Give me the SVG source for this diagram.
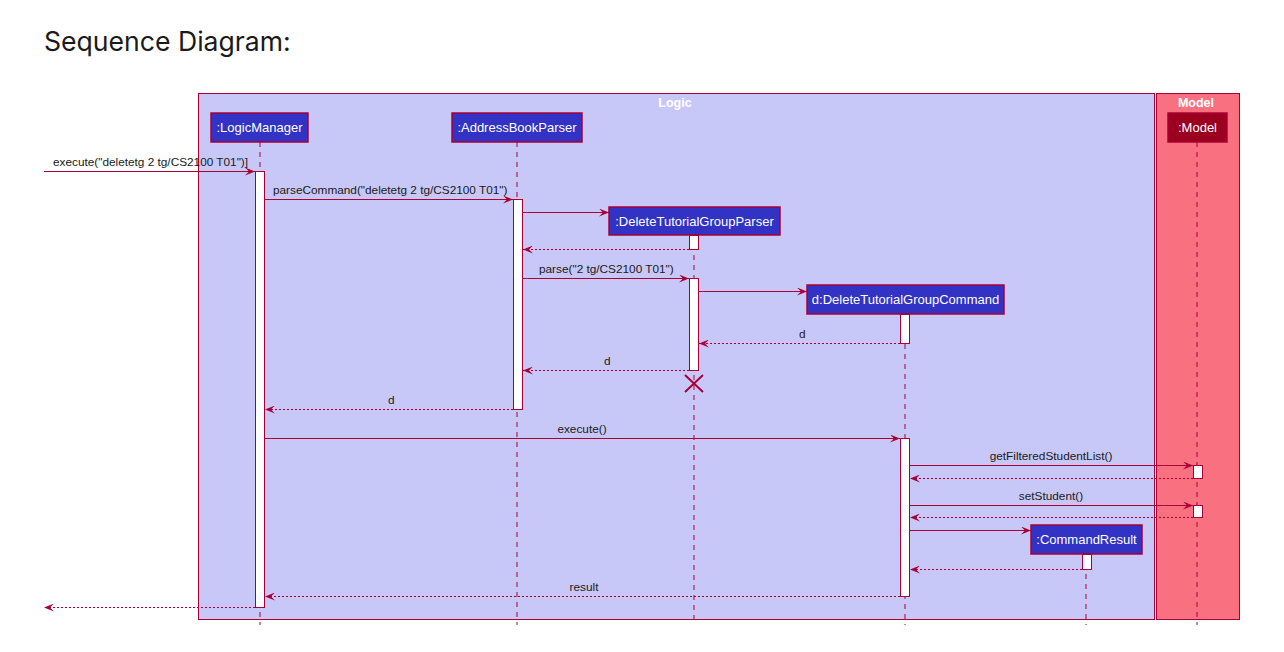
<svg xmlns="http://www.w3.org/2000/svg" width="1284" height="652" viewBox="0 0 1284 652">
<defs>
<marker id="arr" viewBox="0 0 10 8" markerWidth="10" markerHeight="8" refX="10" refY="4" orient="auto" markerUnits="userSpaceOnUse">
<path d="M0,0 L10,4 L0,8 L4,4 Z" fill="#A80036"/>
</marker>
<style>
.title{font-family:Inter,"Liberation Sans",sans-serif;font-size:26.6px;fill:#1a1a1a}
.box{fill:#3232C4;stroke:#A80036;stroke-width:1.5}
.mbox{fill:#9C001F;stroke:#A80036;stroke-width:1.5}
.pt{font-family:"Liberation Sans",Arial,sans-serif;font-size:13px;fill:#ffffff;text-anchor:middle}
.life{stroke:#A80036;stroke-width:1;stroke-dasharray:5,5;fill:none}
.act{fill:#ffffff;stroke:#A80036;stroke-width:1}
.msg{stroke:#A80036;stroke-width:1;fill:none;marker-end:url(#arr)}
.ret{stroke:#A80036;stroke-width:1;stroke-dasharray:2,2;fill:none;marker-end:url(#arr)}
.ml{font-family:"Liberation Sans",Arial,sans-serif;font-size:11.8px;fill:#1a1a1a}
.gt{font-family:"Liberation Sans",Arial,sans-serif;font-size:12.5px;font-weight:bold;fill:#ffffff;text-anchor:middle}
</style>
</defs>
<rect width="1284" height="652" fill="#ffffff"/>
<text class="title" x="44" y="51">Sequence Diagram:</text>

<g id="group-logic">
<rect x="198.5" y="93.5" width="956" height="526" fill="#C8C8F8" stroke="#A80036" stroke-width="1"/>
<text class="gt" x="675" y="107">Logic</text>
</g>
<g id="group-model">
<rect x="1156.5" y="93.5" width="83" height="526" fill="#F97181" stroke="#A80036" stroke-width="1"/>
<text class="gt" x="1196" y="107">Model</text>
</g>

<g id="lifelines">
<line class="life" x1="260" y1="142" x2="260" y2="625"/>
<line class="life" x1="517" y1="142" x2="517" y2="625"/>
<line class="life" x1="694" y1="235" x2="694" y2="625"/>
<line class="life" x1="905" y1="314" x2="905" y2="625"/>
<line class="life" x1="1086" y1="554" x2="1086" y2="625"/>
<line class="life" x1="1197" y1="142" x2="1197" y2="625"/>
</g>

<g id="logicmanager">
<rect class="box" x="211" y="113" width="97" height="29"/>
<text class="pt" x="259.5" y="132">:LogicManager</text>
<rect class="act" x="255.5" y="171.5" width="9" height="436"/>
</g>
<g id="addressbookparser">
<rect class="box" x="452" y="113" width="130" height="29"/>
<text class="pt" x="517" y="132">:AddressBookParser</text>
<rect class="act" x="513.5" y="199.5" width="9" height="210"/>
</g>
<g id="deletetutorialgroupparser">
<rect class="box" x="609" y="207" width="171" height="28"/>
<text class="pt" x="694.5" y="226">:DeleteTutorialGroupParser</text>
<rect class="act" x="689.5" y="235.5" width="9" height="14"/>
<rect class="act" x="689.5" y="278.5" width="9" height="92"/>
<path d="M685,375 L703,392 M703,375 L685,392" stroke="#A80036" stroke-width="2"/>
</g>
<g id="deletetutorialgroupcommand">
<rect class="box" x="807" y="285" width="197" height="29"/>
<text class="pt" x="905.5" y="304">d:DeleteTutorialGroupCommand</text>
<rect class="act" x="900.5" y="314.5" width="9" height="29"/>
<rect class="act" x="900.5" y="438.5" width="9" height="158"/>
</g>
<g id="commandresult">
<rect class="box" x="1031" y="525" width="111" height="29"/>
<text class="pt" x="1086.5" y="544">:CommandResult</text>
<rect class="act" x="1082.5" y="554.5" width="9" height="15"/>
</g>
<g id="model">
<rect class="mbox" x="1168" y="113" width="59" height="29"/>
<text class="pt" x="1197.5" y="132">:Model</text>
<rect class="act" x="1193.5" y="465.5" width="9" height="13"/>
<rect class="act" x="1193.5" y="505.5" width="9" height="12"/>
</g>

<g id="connectors">
<line class="msg" x1="44" y1="171.5" x2="255" y2="171.5"/>
<text class="ml" x="53" y="166">execute("deletetg 2 tg/CS2100 T01")]</text>
<line class="msg" x1="265" y1="199.5" x2="513" y2="199.5"/>
<text class="ml" x="273" y="194">parseCommand("deletetg 2 tg/CS2100 T01")</text>
<line class="msg" x1="523" y1="212.5" x2="609" y2="212.5"/>
<line class="ret" x1="689" y1="249.5" x2="523" y2="249.5"/>
<line class="msg" x1="523" y1="278.5" x2="689" y2="278.5"/>
<text class="ml" x="539" y="273">parse("2 tg/CS2100 T01")</text>
<line class="msg" x1="699" y1="291.5" x2="807" y2="291.5"/>
<line class="ret" x1="900" y1="343.5" x2="699" y2="343.5"/>
<text class="ml" x="799" y="338">d</text>
<line class="ret" x1="689" y1="370.5" x2="523" y2="370.5"/>
<text class="ml" x="604" y="365">d</text>
<line class="ret" x1="513" y1="409.5" x2="265" y2="409.5"/>
<text class="ml" x="388" y="404">d</text>
<line class="msg" x1="265" y1="438.5" x2="900" y2="438.5"/>
<text class="ml" x="582" y="433" text-anchor="middle">execute()</text>
<line class="msg" x1="910" y1="465.5" x2="1193" y2="465.5"/>
<text class="ml" x="1051" y="460" text-anchor="middle">getFilteredStudentList()</text>
<line class="ret" x1="1193" y1="478.5" x2="910" y2="478.5"/>
<line class="msg" x1="910" y1="505.5" x2="1193" y2="505.5"/>
<text class="ml" x="1051" y="500" text-anchor="middle">setStudent()</text>
<line class="ret" x1="1193" y1="517.5" x2="910" y2="517.5"/>
<line class="msg" x1="910" y1="530.5" x2="1031" y2="530.5"/>
<line class="ret" x1="1082" y1="569.5" x2="910" y2="569.5"/>
<line class="ret" x1="900" y1="596.5" x2="265" y2="596.5"/>
<text class="ml" x="584" y="591" text-anchor="middle">result</text>
<line class="ret" x1="255" y1="607.5" x2="44" y2="607.5"/>
</g>
</svg>
